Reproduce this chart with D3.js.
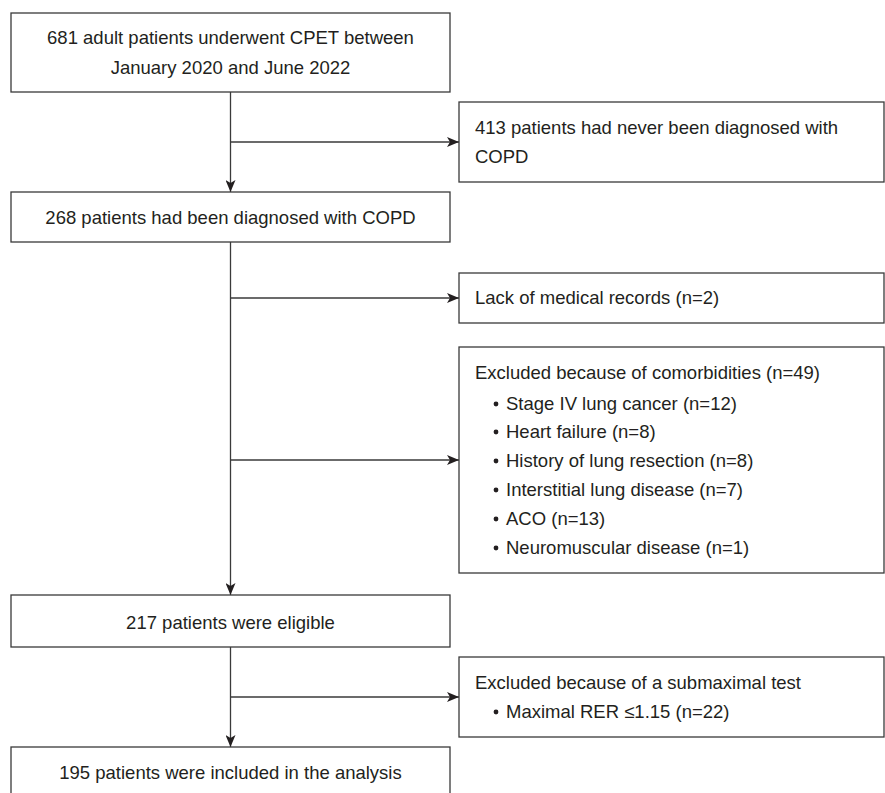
<!DOCTYPE html>
<html><head><meta charset="utf-8">
<script src="https://cdn.jsdelivr.net/npm/d3@7"></script>
<style>body{margin:0;background:#fff}text{font-family:"Liberation Sans",Arial,sans-serif;fill:#231f20}</style>
</head><body><svg id="c" width="885" height="793"></svg>
<script>
// main column boxes: [top, bottom, text lines]
const mainBoxes = [
  { y0: 13, y1: 92, lines: ["681 adult patients underwent CPET between", "January 2020 and June 2022"], ty: [38, 68] },
  { y0: 192, y1: 242, lines: ["268 patients had been diagnosed with COPD"], ty: [218] },
  { y0: 595, y1: 647, lines: ["217 patients were eligible"], ty: [623] },
  { y0: 747, y1: 800, lines: ["195 patients were included in the analysis"], ty: [773] }
];
// side boxes (exclusions)
const sideBoxes = [
  { y0: 102, y1: 182, arrowY: 142, title: ["413 patients had never been diagnosed with", "COPD"], ty: [128, 157], bullets: [], by: [] },
  { y0: 273, y1: 323, arrowY: 298, title: ["Lack of medical records (n=2)"], ty: [298], bullets: [], by: [] },
  { y0: 347, y1: 573, arrowY: 460, title: ["Excluded because of comorbidities (n=49)"], ty: [373],
    bullets: ["Stage IV lung cancer (n=12)", "Heart failure (n=8)", "History of lung resection (n=8)",
              "Interstitial lung disease (n=7)", "ACO (n=13)", "Neuromuscular disease (n=1)"],
    by: [404, 432, 461, 490, 519, 548] },
  { y0: 657, y1: 737, arrowY: 697, title: ["Excluded because of a submaximal test"], ty: [683],
    bullets: ["Maximal RER \u22641.15 (n=22)"], by: [712] }
];

const svg = d3.select("#c");
const x = d3.scaleLinear().domain([0, 1]).range([11, 450]);
const sx = d3.scaleLinear().domain([0, 1]).range([459, 884]);
const cx = x(0.5);
const stroke = "#3a3a3a";
const fs = 18.5;

svg.append("defs").append("marker")
  .attr("id", "ah").attr("viewBox", "0 0 12 10").attr("refX", 12).attr("refY", 5)
  .attr("markerWidth", 12).attr("markerHeight", 10).attr("markerUnits", "userSpaceOnUse")
  .attr("orient", "auto")
  .append("path").attr("d", "M0,0 L12,5 L0,10 L3,5 Z").attr("fill", "#231f20");

// vertical connectors between main boxes
d3.pairs(mainBoxes).forEach(([a, b]) => {
  svg.append("line").attr("x1", cx).attr("x2", cx).attr("y1", a.y1).attr("y2", b.y0)
    .attr("stroke", stroke).attr("stroke-width", 1.3).attr("marker-end", "url(#ah)");
});

// horizontal arrows to side boxes
sideBoxes.forEach(d => {
  svg.append("line").attr("x1", cx).attr("x2", sx(0)).attr("y1", d.arrowY).attr("y2", d.arrowY)
    .attr("stroke", stroke).attr("stroke-width", 1.3).attr("marker-end", "url(#ah)");
});

mainBoxes.forEach(d => {
  svg.append("rect").attr("x", x(0)).attr("y", d.y0).attr("width", x(1) - x(0)).attr("height", d.y1 - d.y0)
    .attr("fill", "#fff").attr("stroke", stroke).attr("stroke-width", 1.3);
  d.lines.forEach((t, i) => svg.append("text").attr("x", cx).attr("y", d.ty[i]).attr("dy", "0.35em")
    .attr("text-anchor", "middle").attr("font-size", fs).text(t));
});

sideBoxes.forEach(d => {
  svg.append("rect").attr("x", sx(0)).attr("y", d.y0).attr("width", sx(1) - sx(0)).attr("height", d.y1 - d.y0)
    .attr("fill", "#fff").attr("stroke", stroke).attr("stroke-width", 1.3);
  d.title.forEach((t, i) => svg.append("text").attr("x", sx(0) + 16).attr("y", d.ty[i]).attr("dy", "0.35em")
    .attr("font-size", fs).text(t));
  d.bullets.forEach((t, i) => {
    svg.append("circle").attr("cx", sx(0) + 37).attr("cy", d.by[i]).attr("r", 2.4).attr("fill", "#231f20");
    svg.append("text").attr("x", sx(0) + 47).attr("y", d.by[i]).attr("dy", "0.35em")
      .attr("font-size", fs).text(t);
  });
});
</script></body></html>
